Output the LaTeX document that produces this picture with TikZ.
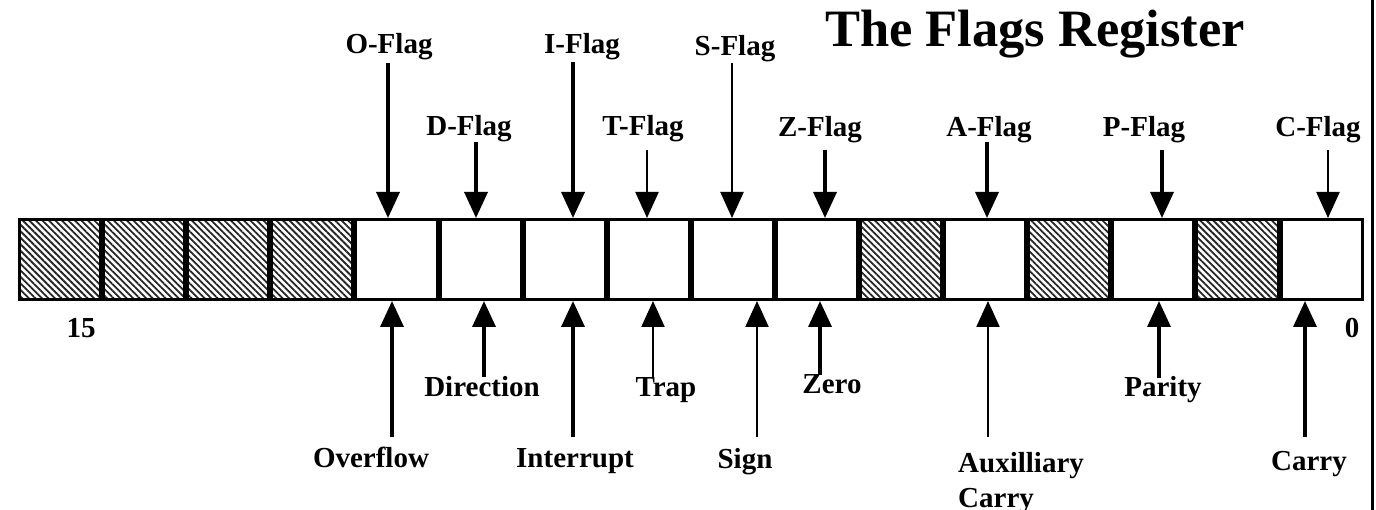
\documentclass[tikz,border=0pt]{standalone}
\usepackage{fontspec}
\setmainfont{Liberation Serif}
\usetikzlibrary{arrows.meta,patterns.meta}
\begin{document}
\begin{tikzpicture}[x=1pt,y=-1pt,
  cell/.style={draw=black,line width=3pt,minimum width=81.1pt,minimum height=80pt,inner sep=0pt,fill=white},
  resv/.style={cell,pattern={Lines[angle=-45,distance=4.6pt,line width=1.8pt]},pattern color=black!85},
  lab/.style={font=\fontsize{29}{35}\selectfont\bfseries,inner sep=0pt,anchor=base},
  arr/.style={-{Triangle[width=23pt,length=26pt]}},
  wthick/.style={arr,line width=3.5pt},
  wthin/.style={arr,line width=2.2pt}]
\fill[white] (0,0) rectangle (1376,510);
\useasboundingbox (0,0) rectangle (1376,510);
% register cells
\foreach \i/\s in {0/resv,1/resv,2/resv,3/resv,4/cell,5/cell,6/cell,7/cell,8/cell,9/cell,10/resv,11/cell,12/resv,13/cell,14/resv,15/cell}{
  \pgfmathtruncatemacro{\bit}{15-\i}
  \node[\s] (bit\bit) at ({60.05+84.1*\i},259.5) {};
}
% title
\node[font=\fontsize{52.5}{60}\selectfont\bfseries,inner sep=0pt,anchor=base] (title) at (1035,47) {The Flags Register};
% bit numbers
\node[lab] (n15) at (81,338) {15};
\node[lab] (n0) at (1352,338) {0};
% top labels
\node[lab] (lO) at (389,54) {O-Flag};
\node[lab] (lI) at (582,54) {I-Flag};
\node[lab] (lS) at (735,56) {S-Flag};
\node[lab] (lD) at (469,136) {D-Flag};
\node[lab] (lT) at (643,136) {T-Flag};
\node[lab] (lZ) at (820,137) {Z-Flag};
\node[lab] (lA) at (989,137) {A-Flag};
\node[lab] (lP) at (1144,137) {P-Flag};
\node[lab] (lC) at (1318,137) {C-Flag};
% bottom labels
\node[lab] (lOv) at (371,467) {Overflow};
\node[lab] (lDi) at (482,397) {Direction};
\node[lab] (lIn) at (575,467) {Interrupt};
\node[lab] (lTr) at (666,397) {Trap};
\node[lab] (lSi) at (745,468) {Sign};
\node[lab] (lZe) at (832,393) {Zero};
\node[lab,anchor=base west,align=left] (lAu) at (958,507) {Auxilliary\\Carry};
\node[lab] (lPa) at (1163,397) {Parity};
\node[lab] (lCa) at (1309,470) {Carry};
% arrow tails
\coordinate (tO) at (388,63);
\coordinate (tD) at (476,142);
\coordinate (tI) at (573,62);
\coordinate (tT) at (647,150);
\coordinate (tS) at (732,63);
\coordinate (tZ) at (825,150);
\coordinate (tA) at (987,142);
\coordinate (tP) at (1162,150);
\coordinate (tC) at (1328,150);
\coordinate (uO) at (392,437);
\coordinate (uD) at (484,377);
\coordinate (uI) at (573,437);
\coordinate (uT) at (653,377);
\coordinate (uS) at (757,437);
\coordinate (uZ) at (820,375);
\coordinate (uA) at (988,437);
\coordinate (uP) at (1159,378);
\coordinate (uC) at (1305,437);
% down arrows
\draw[wthick] (tO) -- (tO |- bit11.north);
\draw[wthick] (tD) -- (tD |- bit10.north);
\draw[wthick] (tI) -- (tI |- bit9.north);
\draw[wthin]  (tT) -- (tT |- bit8.north);
\draw[wthin]  (tS) -- (tS |- bit7.north);
\draw[wthick] (tZ) -- (tZ |- bit6.north);
\draw[wthick] (tA) -- (tA |- bit4.north);
\draw[wthick] (tP) -- (tP |- bit2.north);
\draw[wthin]  (tC) -- (tC |- bit0.north);
% up arrows
\draw[wthick] (uO) -- (uO |- bit11.south);
\draw[wthick] (uD) -- (uD |- bit10.south);
\draw[wthick] (uI) -- (uI |- bit9.south);
\draw[wthin]  (uT) -- (uT |- bit8.south);
\draw[wthin]  (uS) -- (uS |- bit7.south);
\draw[wthick] (uZ) -- (uZ |- bit6.south);
\draw[wthin]  (uA) -- (uA |- bit4.south);
\draw[wthick] (uP) -- (uP |- bit2.south);
\draw[wthick] (uC) -- (uC |- bit0.south);
% right edge rule
\draw[line width=3pt] (1372.5,0) -- (1372.5,510);
\end{tikzpicture}
\end{document}
